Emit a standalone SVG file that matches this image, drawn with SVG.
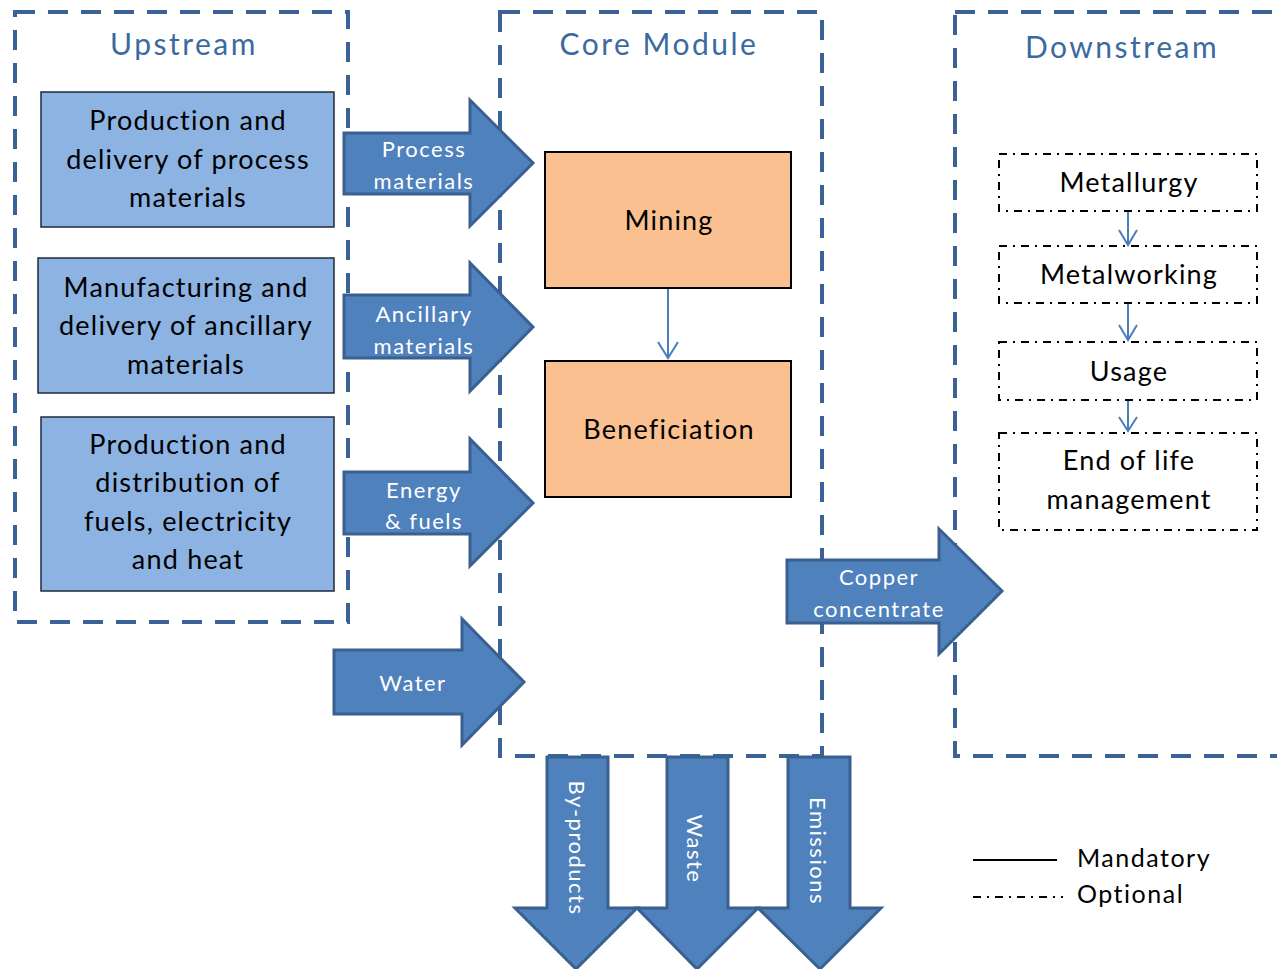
<svg xmlns="http://www.w3.org/2000/svg" width="1277" height="969" viewBox="0 0 1277 969">
  <style>
    .zone { fill: none; stroke: #3b6296; stroke-width: 4; stroke-dasharray: 20 13; }
    .title { font-family: Lato, "Open Sans", sans-serif; font-size: 30px; letter-spacing: 2.5px; fill: #3b6aa0; text-anchor: middle; }
    .up { fill: #8db3e2; stroke: #1f2a3a; stroke-width: 1.5; }
    .core { fill: #fac090; stroke: #000; stroke-width: 2; }
    .opt { fill: #fff; stroke: #000; stroke-width: 2; stroke-dasharray: 8 6 2 6; }
    .lbl { font-family: Lato, "Open Sans", sans-serif; font-size: 27px; letter-spacing: 1.2px; fill: #000; text-anchor: middle; }
    .flow { fill: #4f81bd; stroke: #3a6090; stroke-width: 3; stroke-linejoin: miter; }
    .fl { font-family: Lato, "Open Sans", sans-serif; font-size: 22px; letter-spacing: 1.5px; fill: #fff; text-anchor: middle; }
    .link { fill: none; stroke: #4a7ebb; stroke-width: 2; }
    .leg { font-family: Lato, "Open Sans", sans-serif; font-size: 25px; letter-spacing: 1.5px; fill: #000; }
  </style>

  <!-- system boundaries -->
  <g id="upstream">
    <rect class="zone" x="15" y="12" width="333" height="610"/>
    <text class="title" x="184" y="55">Upstream</text>
  </g>
  <g id="core-module">
    <rect class="zone" x="500" y="12" width="322" height="744"/>
    <text class="title" x="659" y="55">Core Module</text>
  </g>
  <g id="downstream">
    <rect class="zone" x="955" y="12" width="340" height="744"/>
    <text class="title" x="1122" y="58">Downstream</text>
  </g>

  <!-- upstream processes -->
  <g id="process-materials-supply">
    <rect class="up" x="41" y="92" width="293" height="135"/>
    <text class="lbl" x="188" y="130">Production and</text>
    <text class="lbl" x="188" y="169">delivery of process</text>
    <text class="lbl" x="188" y="207">materials</text>
  </g>
  <g id="ancillary-materials-supply">
    <rect class="up" x="38" y="258" width="296" height="135"/>
    <text class="lbl" x="186" y="297">Manufacturing and</text>
    <text class="lbl" x="186" y="335">delivery of ancillary</text>
    <text class="lbl" x="186" y="374">materials</text>
  </g>
  <g id="energy-supply">
    <rect class="up" x="41" y="417" width="293" height="174"/>
    <text class="lbl" x="188" y="454">Production and</text>
    <text class="lbl" x="188" y="492">distribution of</text>
    <text class="lbl" x="188" y="531">fuels, electricity</text>
    <text class="lbl" x="188" y="569">and heat</text>
  </g>

  <!-- core processes -->
  <g id="mining">
    <rect class="core" x="545" y="152" width="246" height="136"/>
    <text class="lbl" x="669" y="230">Mining</text>
  </g>
  <g id="beneficiation">
    <rect class="core" x="545" y="361" width="246" height="136"/>
    <text class="lbl" x="669" y="439">Beneficiation</text>
  </g>

  <!-- downstream processes -->
  <g id="metallurgy">
    <rect class="opt" x="999" y="154" width="258" height="57"/>
    <text class="lbl" x="1129" y="192">Metallurgy</text>
  </g>
  <g id="metalworking">
    <rect class="opt" x="999" y="246" width="258" height="57"/>
    <text class="lbl" x="1129" y="284">Metalworking</text>
  </g>
  <g id="usage">
    <rect class="opt" x="999" y="342" width="258" height="58"/>
    <text class="lbl" x="1129" y="381">Usage</text>
  </g>
  <g id="end-of-life">
    <rect class="opt" x="999" y="433" width="258" height="97"/>
    <text class="lbl" x="1129" y="470">End of life</text>
    <text class="lbl" x="1129" y="509">management</text>
  </g>

  <!-- flows and links -->
  <g id="connectors">
    <!-- process links -->
    <path class="link" d="M668 289 V358 M658 342 L668 358 L678 342"/>
    <path class="link" d="M1128 212 V245 M1119 230 L1128 245 L1137 230"/>
    <path class="link" d="M1128 304 V340 M1119 325 L1128 340 L1137 325"/>
    <path class="link" d="M1128 401 V431 M1119 417 L1128 431 L1137 417"/>

    <!-- inputs -->
    <g id="flow-process-materials">
      <path class="flow" d="M344 133 H470 V100 L533 163 L470 226 V194 H344 Z"/>
      <text class="fl" x="424" y="157">Process</text>
      <text class="fl" x="424" y="189">materials</text>
    </g>
    <g id="flow-ancillary-materials">
      <path class="flow" d="M344 295 H470 V263 L533 327 L470 391 V358 H344 Z"/>
      <text class="fl" x="424" y="322">Ancillary</text>
      <text class="fl" x="424" y="354">materials</text>
    </g>
    <g id="flow-energy">
      <path class="flow" d="M344 472 H470 V439 L533 503 L470 566 V534 H344 Z"/>
      <text class="fl" x="424" y="498">Energy</text>
      <text class="fl" x="424" y="529">&amp; fuels</text>
    </g>
    <g id="flow-water">
      <path class="flow" d="M334 650 H462 V619 L524 682 L462 745 V714 H334 Z"/>
      <text class="fl" x="413" y="691">Water</text>
    </g>

    <!-- product -->
    <g id="flow-copper-concentrate">
      <path class="flow" d="M787 560 H939 V529 L1002 591 L939 654 V623 H787 Z"/>
      <text class="fl" x="879" y="585">Copper</text>
      <text class="fl" x="879" y="617">concentrate</text>
    </g>

    <!-- outputs -->
    <g id="flow-by-products">
      <path class="flow" d="M547 757 H608 V908 H637 L576 969 L515 908 H547 Z"/>
      <text class="fl" transform="translate(569 848) rotate(90)">By-products</text>
    </g>
    <g id="flow-waste">
      <path class="flow" d="M667 757 H728 V908 H758 L697 969 L637 908 H667 Z"/>
      <text class="fl" transform="translate(687 849) rotate(90)">Waste</text>
    </g>
    <g id="flow-emissions">
      <path class="flow" d="M788 757 H850 V908 H881 L820 969 L758 908 H788 Z"/>
      <text class="fl" transform="translate(810 851) rotate(90)">Emissions</text>
    </g>
  </g>

  <!-- legend -->
  <g id="legend">
    <line x1="973" y1="860" x2="1057" y2="860" stroke="#000" stroke-width="2"/>
    <line x1="973" y1="897" x2="1063" y2="897" stroke="#000" stroke-width="2" stroke-dasharray="8 6 2 6"/>
    <text class="leg" x="1077" y="867">Mandatory</text>
    <text class="leg" x="1077" y="903">Optional</text>
  </g>
</svg>
